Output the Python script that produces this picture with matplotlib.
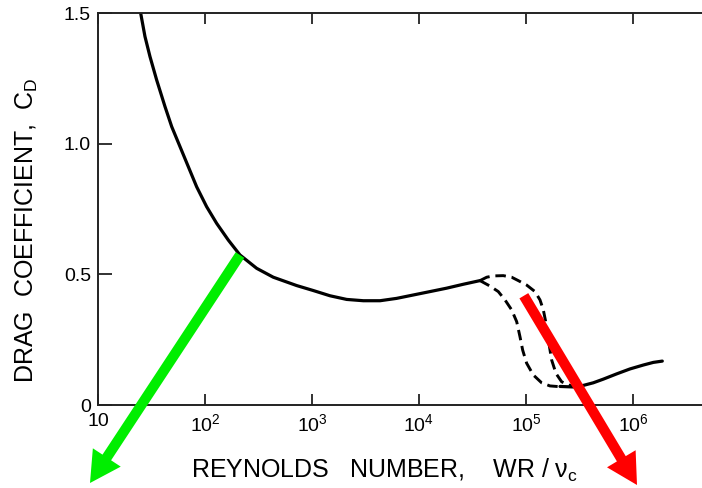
import numpy as np
import matplotlib
matplotlib.use("Agg")
from matplotlib import pyplot as plt

plt.rcParams['font.family'] = ['Liberation Sans', 'DejaVu Sans']
plt.rcParams['mathtext.fontset'] = 'custom'
plt.rcParams['mathtext.rm'] = 'Liberation Sans'
plt.rcParams['mathtext.it'] = 'Liberation Sans:italic'

# values, Reynolds number given as log10
# subcritical curve
logre_sub = [1.399, 1.439, 1.486, 1.548, 1.626, 1.689, 1.766, 1.844, 1.922, 2.015,
             2.109, 2.218, 2.327, 2.483, 2.638, 2.857, 3.012, 3.168, 3.324, 3.480,
             3.636, 3.791, 3.947, 4.103, 4.258, 4.414, 4.570]
cd_sub = [1.499, 1.410, 1.333, 1.244, 1.142, 1.065, 0.989, 0.912, 0.835, 0.759,
          0.695, 0.631, 0.574, 0.523, 0.489, 0.457, 0.438, 0.418, 0.404, 0.399,
          0.399, 0.408, 0.421, 0.434, 0.447, 0.462, 0.476]

# transition, outer dashed branch
logre_dash_a = [4.570, 4.633, 4.695, 4.788, 4.866, 4.928, 5.006, 5.084, 5.131, 5.162,
                5.187, 5.209, 5.240, 5.280, 5.333, 5.395, 5.458]
cd_dash_a = [0.476, 0.489, 0.494, 0.495, 0.489, 0.476, 0.459, 0.434, 0.402, 0.364,
             0.313, 0.249, 0.172, 0.121, 0.089, 0.077, 0.070]

# transition, inner dashed branch
logre_dash_b = [4.570, 4.664, 4.741, 4.804, 4.866, 4.913, 4.944, 4.969, 5.006, 5.068,
                5.146, 5.224, 5.318]
cd_dash_b = [0.476, 0.455, 0.434, 0.402, 0.364, 0.319, 0.261, 0.210, 0.160, 0.115,
             0.085, 0.073, 0.070]

# supercritical curve
logre_super = [5.318, 5.442, 5.536, 5.629, 5.723, 5.847, 5.972, 6.097, 6.190, 6.274]
cd_super = [0.071, 0.069, 0.075, 0.085, 0.099, 0.119, 0.138, 0.153, 0.163, 0.168]

x_ticks = [10, 1e2, 1e3, 1e4, 1e5, 1e6]
x_labels = ['10', '$10^2$', '$10^3$', '$10^4$', '$10^5$', '$10^6$']
y_ticks = [0, 0.5, 1.0, 1.5]
y_labels = ['0', '0.5', '1.0', '1.5']

fig = plt.figure(figsize=(7.02, 4.88), dpi=100)
ax = fig.add_axes([98/702, 83/488, 604/702, 392/488])

ax.plot(10**np.array(logre_sub), cd_sub, color='black', lw=2.3,
        solid_capstyle='round', solid_joinstyle='round')
ax.plot(10**np.array(logre_super), cd_super, color='black', lw=2.3,
        solid_capstyle='round', solid_joinstyle='round')
ax.plot(10**np.array(logre_dash_a), cd_dash_a, color='black', lw=2.1, dashes=(3.6, 2.0))
ax.plot(10**np.array(logre_dash_b), cd_dash_b, color='black', lw=2.1, dashes=(3.6, 2.0))

ax.set_xscale('log')
ax.set_xlim(10, 10**6.645)
ax.set_ylim(0, 1.5)
ax.set_xticks(x_ticks)
ax.set_xticklabels(x_labels)
ax.minorticks_off()
ax.set_yticks(y_ticks)
ax.set_yticklabels(y_labels)

ax.tick_params(axis='x', direction='in', top=True, length=8, width=1.3,
               labelsize=14, pad=6, color='#222222')
ax.tick_params(axis='y', direction='in', length=10, width=1.3,
               labelsize=14, pad=5, color='#222222')
for side in ['left', 'bottom', 'top']:
    ax.spines[side].set_linewidth(1.4)
    ax.spines[side].set_color('#222222')
ax.spines['right'].set_visible(False)

ax.set_ylabel('DRAG  COEFFICIENT,  C$_\\mathrm{D}$', fontsize=18, va='center')
ax.yaxis.set_label_coords(-0.1175, 0.446)
ax.set_xlabel('REYNOLDS   NUMBER,    WR / ν$_\\mathrm{c}$', fontsize=18, va='center')
ax.xaxis.set_label_coords(0.475, -0.166)

# coloured arrows drawn over the chart
ax.annotate('', xy=(90/702, 1 - 483/488), xycoords='figure fraction',
            xytext=(10**2.327, 0.574), textcoords='data', annotation_clip=False,
            arrowprops=dict(facecolor='#00ee00', edgecolor='none', width=7.4,
                            headwidth=24, headlength=22, shrink=0))
ax.annotate('', xy=(637/702, 1 - 485/488), xycoords='figure fraction',
            xytext=(10**4.98, 0.418), textcoords='data', annotation_clip=False,
            arrowprops=dict(facecolor='#ff0000', edgecolor='none', width=7.4,
                            headwidth=24, headlength=22, shrink=0))

fig.savefig('out.png', dpi=100)
